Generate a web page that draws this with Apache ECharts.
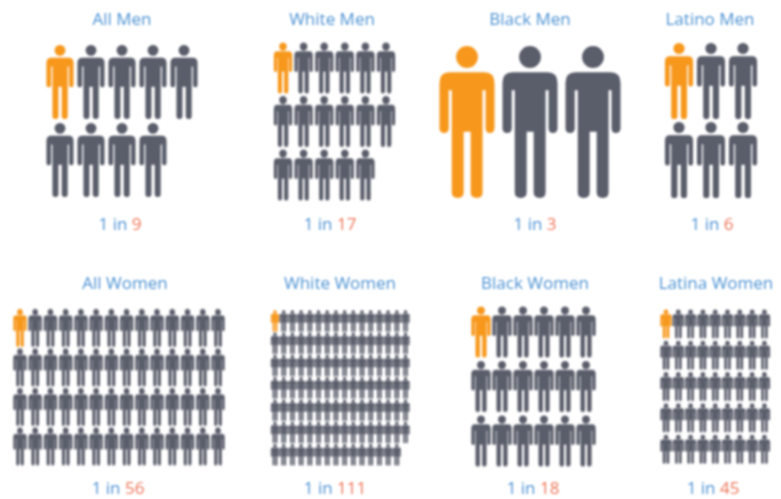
<!DOCTYPE html>
<html>
<head>
<meta charset="utf-8">
<script src="https://cdn.jsdelivr.net/npm/echarts@6/dist/echarts.min.js"></script>
<style>
html,body{margin:0;padding:0;background:#fff;}
#c{width:781px;height:499px;filter:blur(0.85px);}
</style>
</head>
<body>
<div id="c"></div>
<script>
// Data
const groups = ['All Men','White Men','Black Men','Latino Men','All Women','White Women','Black Women','Latina Women'];
const oneIn = [9,17,3,6,56,111,18,45];
const rowCounts = [[5,4],[6,6,5],[3],[3,3],[14,14,14,14],[16,16,16,16,16,16,15],[6,6,6],[9,9,9,9,9]];

// Layout: first icon centre, column / row pitch, icon size, halo width, title and footer centres
const layout = [
 {x:60, y:82, sx:31, sy:78, w:27,h:74, b:0.2, tx:122,ty:20, fx:120,fy:225},
 {x:283,y:68, sx:20.6,sy:53.5,w:18,h:50, b:0.9, tx:332,ty:20, fx:330,fy:225},
 {x:467,y:122,sx:63, sy:152,w:55,h:152,b:0, tx:530,ty:20, fx:535,fy:225},
 {x:679,y:81, sx:32, sy:79, w:28,h:76, b:0.2, tx:710,ty:20, fx:712,fy:225},
 {x:20, y:328,sx:15.23,sy:39.5,w:13,h:37, b:1.1, tx:125,ty:284,fx:118,fy:489},
 {x:275,y:321,sx:8.7,sy:22.3,w:8,h:21, b:0.7, tx:340,ty:284,fx:335,fy:489},
 {x:481,y:332,sx:21, sy:54.5,w:19,h:50, b:0.9, tx:535,ty:284,fx:533,fy:489},
 {x:666,y:324,sx:12.3,sy:31.3,w:11,h:28, b:1, tx:716,ty:284,fx:713,fy:489}
];
const ORANGE='#F7981D', GREY='#5A5E6B', BLUE='#4F94D4', RED='#EE7558';
const ORANGE_HALO='rgba(247,152,29,0.6)', GREY_HALO='rgba(90,94,107,0.6)';
const person='path://M50 34A33 33 0 1 1 116 34A33 33 0 1 1 50 34ZM30 80H136Q166 80 166 112V248Q166 262 152 262Q139 262 139 248V134H130V440Q130 457 113 457Q94 457 94 440V258H73V440Q73 457 55 457Q37 457 37 440V134H28V248Q28 262 14 262Q0 262 0 248V112Q0 80 30 80Z';

const grid=[],xAxis=[],yAxis=[],series=[],title=[];
groups.forEach((name,i)=>{
  const L=layout[i], rows=rowCounts[i], cols=Math.max(...rows);
  grid.push({left:L.x-L.sx/2, top:L.y-L.sy/2, width:L.sx*cols, height:L.sy*rows.length});
  xAxis.push({type:'value',gridIndex:i,min:-0.5,max:cols-0.5,show:false});
  yAxis.push({type:'value',gridIndex:i,min:-0.5,max:rows.length-0.5,inverse:true,show:false});
  const pts=[];
  rows.forEach((n,r)=>{for(let c=0;c<n;c++){
    const first=pts.length===0;
    pts.push({value:[c,r],itemStyle:{opacity:1,color:first?ORANGE:GREY,borderColor:first?ORANGE_HALO:GREY_HALO,borderWidth:L.b}});
  }});
  series.push({type:'scatter',name,xAxisIndex:i,yAxisIndex:i,symbol:person,symbolSize:[L.w,L.h],
    animation:false,silent:true,data:pts});
  title.push({text:name,left:L.tx,top:L.ty,textAlign:'center',textVerticalAlign:'middle',padding:0,
    textStyle:{fontFamily:'Open Sans',fontSize:17,fontWeight:'normal',color:BLUE}});
  title.push({text:'{a|1 in }{b|'+oneIn[i]+'}',left:L.fx,top:L.fy,textAlign:'center',textVerticalAlign:'middle',padding:0,
    textStyle:{fontFamily:'Open Sans',fontSize:17,fontWeight:'normal',rich:{
      a:{fontFamily:'Open Sans',fontSize:17,fontWeight:'normal',color:BLUE},
      b:{fontFamily:'Open Sans',fontSize:17,fontWeight:'normal',color:RED}}}});
});
const chart=echarts.init(document.getElementById('c'));
chart.setOption({backgroundColor:'#fff',animation:false,title,grid,xAxis,yAxis,series});
</script>
</body>
</html>
